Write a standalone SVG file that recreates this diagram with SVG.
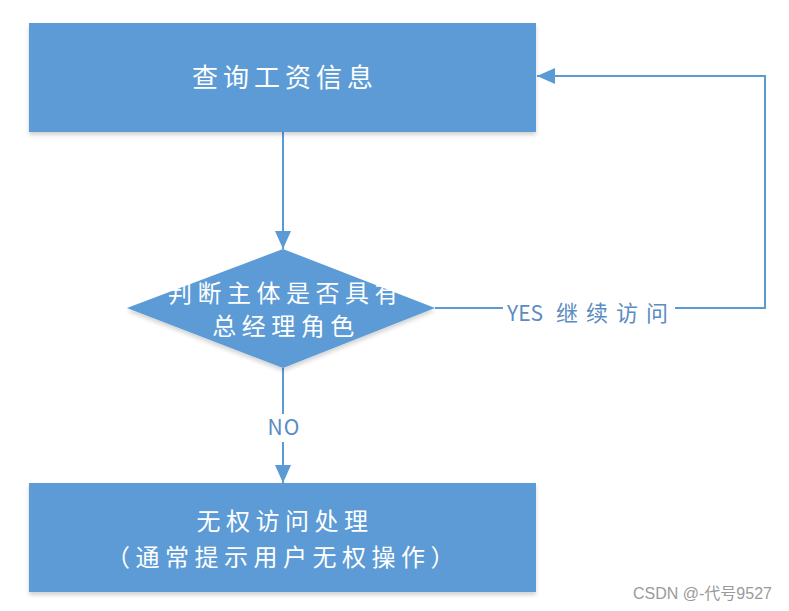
<svg xmlns="http://www.w3.org/2000/svg" width="789" height="611" viewBox="0 0 789 611">
<style>
.box{fill:#5b9bd5;filter:url(#sh)}
.nt{fill:#ffffff;font-family:"Microsoft YaHei","Noto Sans CJK SC",sans-serif;font-size:24px;text-anchor:middle;letter-spacing:5.5px}
.big{font-size:26px;letter-spacing:5px}
.ln{fill:none;stroke:#5b9bd5;stroke-width:2}
.lb{fill:#5a8bc2;font-family:"Noto Sans CJK SC",sans-serif;font-size:21px;text-anchor:middle}
.wm{fill:#9a9a9a;font-family:"Liberation Sans","Noto Sans CJK SC",sans-serif;font-size:16px}
</style>
<defs>
<filter id="sh" x="-5%" y="-10%" width="110%" height="125%">
<feGaussianBlur in="SourceAlpha" stdDeviation="2"/>
<feOffset dx="0" dy="3"/>
<feComponentTransfer><feFuncA type="linear" slope="0.18"/></feComponentTransfer>
<feMerge><feMergeNode/><feMergeNode in="SourceGraphic"/></feMerge>
</filter>
<marker id="arb" markerWidth="18" markerHeight="18" refX="18" refY="9" orient="auto" markerUnits="userSpaceOnUse" viewBox="0 0 18 18">
<path d="M0,1 L18,9 L0,17 z" fill="#5b9bd5"/>
</marker>
</defs>
<rect width="789" height="611" fill="#ffffff"/>
<g id="connectors">
<line class="ln" x1="283" y1="132" x2="283" y2="249" marker-end="url(#arb)"/>
<line class="ln" x1="283" y1="368" x2="283" y2="483" marker-end="url(#arb)"/>
<polyline class="ln" points="435,308 765,308 765,76 537,76" marker-end="url(#arb)"/>
<rect x="262" y="414" width="42" height="28" fill="#ffffff"/>
<text class="lb" x="284" y="435" letter-spacing="1">NO</text>
<rect x="503" y="297" width="172" height="28" fill="#ffffff"/>
<text class="lb" y="321" style="text-anchor:start"><tspan x="507">YES</tspan><tspan x="556" font-size="22" letter-spacing="8">继续访问</tspan></text>
</g>
<g id="node-query">
<rect class="box" x="29" y="23" width="507" height="109"/>
<text class="nt big" x="285" y="87">查询工资信息</text>
</g>
<g id="node-decision">
<polygon points="283,249 435,308 283,368 127,308" fill="#5b9bd5" filter="url(#sh)"/>
<text class="nt" x="286" y="302">判断主体是否具有</text>
<text class="nt" x="286" y="335">总经理角色</text>
</g>
<g id="node-deny">
<rect class="box" x="29" y="483" width="507" height="109"/>
<text class="nt" x="285" y="530" letter-spacing="6">无权访问处理</text>
<text class="nt" x="283" y="566" letter-spacing="6">（通常提示用户无权操作）</text>
</g>
<text class="wm" x="633" y="599">CSDN @-代号9527</text>
</svg>
